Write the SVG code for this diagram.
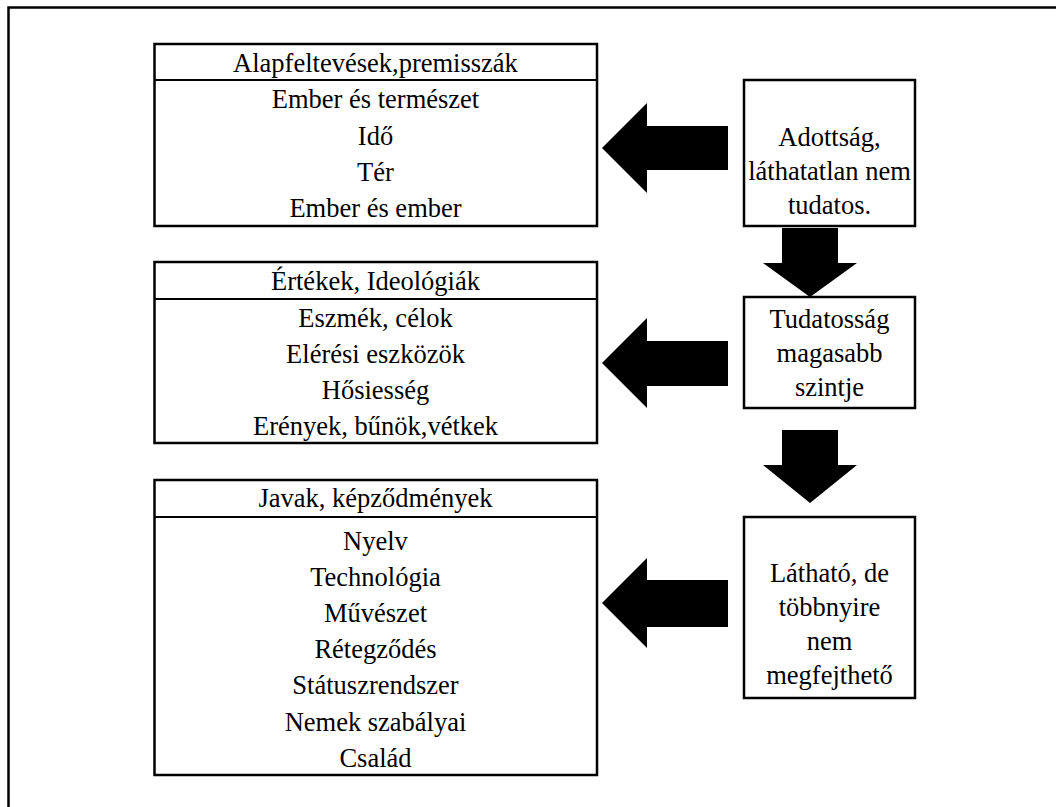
<svg xmlns="http://www.w3.org/2000/svg" width="1056" height="807" viewBox="0 0 1056 807">
<style>
text{font-family:'Liberation Serif','Times New Roman',Times,'Noto Serif','DejaVu Serif',serif;font-size:26.5px;fill:#000;text-anchor:middle}
.b{fill:#fff;stroke:#000;stroke-width:2.5}
.d{stroke:#000;stroke-width:2;fill:none}
.a{fill:#000;stroke:none}
</style>
<rect width="1056" height="807" fill="#fff"/>
<g id="frame">
<rect x="8.5" y="7.5" width="1200" height="900" fill="none" stroke="#000" stroke-width="2.5"/>
</g>
<g id="connectors">
<polygon class="a" points="602,148 647,103 647,126 728,126 728,170 647,170 647,193"/>
<polygon class="a" points="602,363 647,318 647,341 728,341 728,386 647,386 647,408"/>
<polygon class="a" points="602,603 647,558 647,580 728,580 728,627 647,627 647,648"/>
<polygon class="a" points="782,228 838,228 838,263 857,263 810,297 763,263 782,263"/>
<polygon class="a" points="782,430 838,430 838,465 857,465 810,503 763,465 782,465"/>
</g>
<g id="box-alapfeltevesek">
<rect class="b" x="154.5" y="44" width="442.5" height="182"/>
<line class="d" x1="154.5" y1="80" x2="597" y2="80"/>
<text x="375.5" y="72">Alapfeltevések,premisszák</text>
<text x="375.5" y="108">Ember és természet</text>
<text x="375.5" y="145">Idő</text>
<text x="375.5" y="181">Tér</text>
<text x="375.5" y="217">Ember és ember</text>
</g>
<g id="box-ertekek">
<rect class="b" x="154.5" y="262" width="442.5" height="181"/>
<line class="d" x1="154.5" y1="299" x2="597" y2="299"/>
<text x="375.5" y="290">Értékek, Ideológiák</text>
<text x="375.5" y="327">Eszmék, célok</text>
<text x="375.5" y="363">Elérési eszközök</text>
<text x="375.5" y="399">Hősiesség</text>
<text x="375.5" y="435">Erények, bűnök,vétkek</text>
</g>
<g id="box-javak">
<rect class="b" x="154.5" y="480" width="442.5" height="295"/>
<line class="d" x1="154.5" y1="517" x2="597" y2="517"/>
<text x="375.5" y="507">Javak, képződmények</text>
<text x="375.5" y="550">Nyelv</text>
<text x="375.5" y="586">Technológia</text>
<text x="375.5" y="622">Művészet</text>
<text x="375.5" y="658">Rétegződés</text>
<text x="375.5" y="694">Státuszrendszer</text>
<text x="375.5" y="731">Nemek szabályai</text>
<text x="375.5" y="767">Család</text>
</g>
<g id="box-adottsag">
<rect class="b" x="744" y="80" width="171" height="146"/>
<text x="829.5" y="146">Adottság,</text>
<text x="829.5" y="180">láthatatlan nem</text>
<text x="829.5" y="214">tudatos.</text>
</g>
<g id="box-tudatossag">
<rect class="b" x="744" y="297" width="171" height="111"/>
<text x="829.5" y="328">Tudatosság</text>
<text x="829.5" y="362">magasabb</text>
<text x="829.5" y="396">szintje</text>
</g>
<g id="box-lathato">
<rect class="b" x="744" y="517" width="171" height="181"/>
<text x="829.5" y="582">Látható, de</text>
<text x="829.5" y="616">többnyire</text>
<text x="829.5" y="650">nem</text>
<text x="829.5" y="684">megfejthető</text>
</g>
</svg>
